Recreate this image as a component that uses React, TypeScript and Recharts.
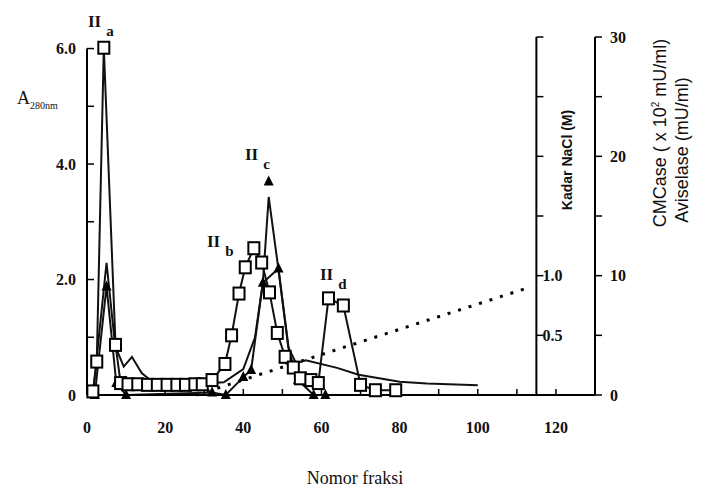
import React from 'react'
import {
  ComposedChart, Line, XAxis, YAxis, ReferenceLine, ReferenceDot,
} from 'recharts'

// A280nm (garis tanpa penanda)
const a280Frac = [1.5, 5, 7.2, 9.4, 11.5, 14, 16.5, 19, 25, 30, 35, 40, 43, 45, 46.5, 49, 51.5, 53.5, 56, 64, 69.5, 80, 87, 100]
const a280Val = [0, 2.29, 0.85, 0.49, 0.66, 0.38, 0.24, 0.21, 0.2, 0.2, 0.22, 0.45, 1.0, 1.94, 3.43, 2.17, 0.83, 0.55, 0.6, 0.47, 0.35, 0.23, 0.2, 0.17]

// CMCase (kotak)
const cmcFrac = [1.5, 2.5, 4.3, 7.3, 8.6, 10.5, 13, 15.5, 18, 20.5, 23, 25.2, 27.6, 29.5, 32, 35.3, 37, 38.9, 40.5, 42.7, 44.7, 46.7, 48.7, 50.7, 52.8, 54.6, 57.3, 59.2, 61.8, 65.6, 70, 73.8, 79]
const cmcVal = [0.3, 2.8, 29.1, 4.2, 1.0, 0.9, 0.9, 0.85, 0.85, 0.85, 0.85, 0.85, 0.9, 0.9, 1.25, 2.6, 5.0, 8.5, 10.7, 12.3, 11.1, 8.6, 5.2, 3.2, 2.3, 1.4, 1.25, 1.0, 8.1, 7.5, 0.85, 0.4, 0.4]

// Aviselase (segitiga)
const aviFrac = [2, 5, 7.5, 10, 32, 35.5, 40, 42, 45, 49, 52, 54, 58, 61]
const aviVal = [0, 9.1, 1.0, 0, 0.2, 0, 1.5, 2.1, 9.4, 10.6, 2.9, 1.25, 0, 0]

// penanda segitiga di atas puncak IIc
const peakMarkFrac = 46.5
const peakMarkVal = 17.9

// gradien NaCl (titik-titik)
const naclFrac = [28, 113]
const naclVal = [0, 0.9]

const xTicks = [0, 10, 20, 30, 40, 50, 60, 70, 80, 90, 100, 110, 120]
const aTicks = [0, 1, 2, 3, 4, 5, 6]
const cmcTicks = [0, 5, 10, 15, 20, 25, 30]
const naclTicks = [0.5, 1, 1.5, 2, 2.5, 3]
const naclLabels = [0.5, 1]
const naclAxisX = 115

const zip = (xs: number[], ys: number[]) => xs.map((x, i) => ({ x, y: ys[i] }))
const a280Data = zip(a280Frac, a280Val)
const cmcData = zip(cmcFrac, cmcVal)
const aviData = zip(aviFrac, aviVal)
const naclData = zip(naclFrac, naclVal)

const serif = '"Liberation Serif", "DejaVu Serif", serif'
const sans = '"Liberation Sans", Arial, sans-serif'
const tickStyle = { fontSize: 16, fill: '#111', fontFamily: serif, fontWeight: 700 }

function SquareDot(p: any) {
  const { cx, cy, index } = p
  if (cx == null || cy == null) return null
  return <rect key={'s' + index} x={cx - 5.5} y={cy - 6} width={11} height={12} fill="#fff" stroke="#000" strokeWidth={2} />
}

function TriDot(p: any) {
  const { cx, cy, index } = p
  if (cx == null || cy == null) return null
  return <path key={'t' + index} d={`M${cx},${cy - 6} L${cx + 5},${cy + 4} L${cx - 5},${cy + 4} Z`} fill="#000" />
}

function PeakLabel({ left, top, sub }: { left: number; top: number; sub: string }) {
  return (
    <div style={{ position: 'absolute', left, top, fontFamily: serif, fontWeight: 700, fontSize: 17, lineHeight: 1, whiteSpace: 'nowrap', color: '#111' }}>
      II<span style={{ position: 'relative', top: 9, marginLeft: 5, fontSize: 15 }}>{sub}</span>
    </div>
  )
}

export default function App() {
  return (
    <div style={{ position: 'absolute', left: 0, top: 0, width: 703, height: 488, background: '#fff' }}>
      <ComposedChart width={703} height={488} data={a280Data} margin={{ top: 37, right: 58, bottom: 53, left: 27 }}>
        <XAxis
          type="number" dataKey="x" domain={[0, 130]} ticks={xTicks}
          tickFormatter={(v: number) => (v % 20 === 0 ? String(v) : '')}
          axisLine={{ stroke: '#000', strokeWidth: 2 }}
          tickLine={{ stroke: '#000', strokeWidth: 1.5 }}
          tickSize={-6} tickMargin={33} height={40} tick={tickStyle}
        />
        <YAxis
          yAxisId="a" domain={[0, 6.2]} ticks={aTicks} width={60}
          tickFormatter={(v: number) => (v === 0 ? '0' : v % 2 === 0 ? v.toFixed(1) : '')}
          axisLine={false} tickLine={{ stroke: '#000', strokeWidth: 1.5 }}
          tickSize={-7} tickMargin={18} tick={tickStyle}
        />
        <YAxis
          yAxisId="cmc" orientation="right" domain={[0, 30]} ticks={cmcTicks} width={50}
          tickFormatter={(v: number) => (v % 10 === 0 ? String(v) : '')}
          axisLine={{ stroke: '#000', strokeWidth: 2 }} tickLine={{ stroke: '#000', strokeWidth: 1.5 }}
          tickSize={7} tickMargin={8} tick={tickStyle}
        />
        <YAxis yAxisId="nacl" domain={[0, 3]} hide />

        {/* garis sumbu kiri hanya sampai 6.0 */}
        <ReferenceLine yAxisId="a" segment={[{ x: 0, y: 0 }, { x: 0, y: 6 }]} stroke="#000" strokeWidth={2} ifOverflow="visible" />

        {/* sumbu NaCl di dalam area plot */}
        <ReferenceLine yAxisId="nacl" segment={[{ x: naclAxisX, y: 0 }, { x: naclAxisX, y: 3 }]} stroke="#000" strokeWidth={2} />
        {naclTicks.map((t) => (
          <ReferenceLine key={'nt' + t} yAxisId="nacl" segment={[{ x: naclAxisX, y: t }, { x: naclAxisX + 1.8, y: t }]} stroke="#000" strokeWidth={1.5} />
        ))}
        {naclLabels.map((t) => (
          <ReferenceDot
            key={'nl' + t} yAxisId="nacl" x={naclAxisX} y={t} r={0} fill="none" stroke="none"
            label={{ value: t.toFixed(1), position: 'right', offset: 6, fontSize: 16, fill: '#111', fontFamily: serif, fontWeight: 700 }}
          />
        ))}

        <Line yAxisId="nacl" data={naclData} dataKey="y" stroke="#000" strokeWidth={3} strokeDasharray="3 8" dot={false} isAnimationActive={false} />
        <Line yAxisId="a" data={a280Data} dataKey="y" stroke="#111" strokeWidth={2} dot={false} isAnimationActive={false} />
        <Line yAxisId="cmc" data={aviData} dataKey="y" stroke="#111" strokeWidth={2} dot={<TriDot />} isAnimationActive={false} />
        <Line yAxisId="cmc" data={cmcData} dataKey="y" stroke="#111" strokeWidth={2} dot={<SquareDot />} isAnimationActive={false} />
        <ReferenceDot yAxisId="cmc" x={peakMarkFrac} y={peakMarkVal} r={5} shape={(p: any) => <TriDot {...p} index={99} />} />
      </ComposedChart>

      <div style={{ position: 'absolute', left: 17, top: 88, fontFamily: serif, fontSize: 18, color: '#111', whiteSpace: 'nowrap' }}>
        A<span style={{ fontSize: 10, position: 'relative', top: 5 }}>280nm</span>
      </div>
      <div style={{ position: 'absolute', left: 355, top: 478, transform: 'translate(-50%, -50%)', fontFamily: serif, fontSize: 18, color: '#111', whiteSpace: 'nowrap' }}>
        Nomor fraksi
      </div>
      <div style={{ position: 'absolute', left: 567, top: 160, transform: 'translate(-50%, -50%) rotate(-90deg)', fontFamily: sans, fontWeight: 700, fontSize: 14, color: '#111', whiteSpace: 'nowrap' }}>
        Kadar NaCl (M)
      </div>
      <div style={{ position: 'absolute', left: 660, top: 133, transform: 'translate(-50%, -50%) rotate(-90deg)', fontFamily: sans, fontSize: 18, color: '#111', whiteSpace: 'nowrap' }}>
        CMCase ( x 10<sup style={{ fontSize: 10 }}>2</sup> mU/ml)
      </div>
      <div style={{ position: 'absolute', left: 682, top: 150, transform: 'translate(-50%, -50%) rotate(-90deg)', fontFamily: sans, fontSize: 18, color: '#111', whiteSpace: 'nowrap' }}>
        Aviselase (mU/ml)
      </div>

      <PeakLabel left={88} top={13} sub="a" />
      <PeakLabel left={207} top={233} sub="b" />
      <PeakLabel left={245} top={146} sub="c" />
      <PeakLabel left={320} top={266} sub="d" />
    </div>
  )
}
